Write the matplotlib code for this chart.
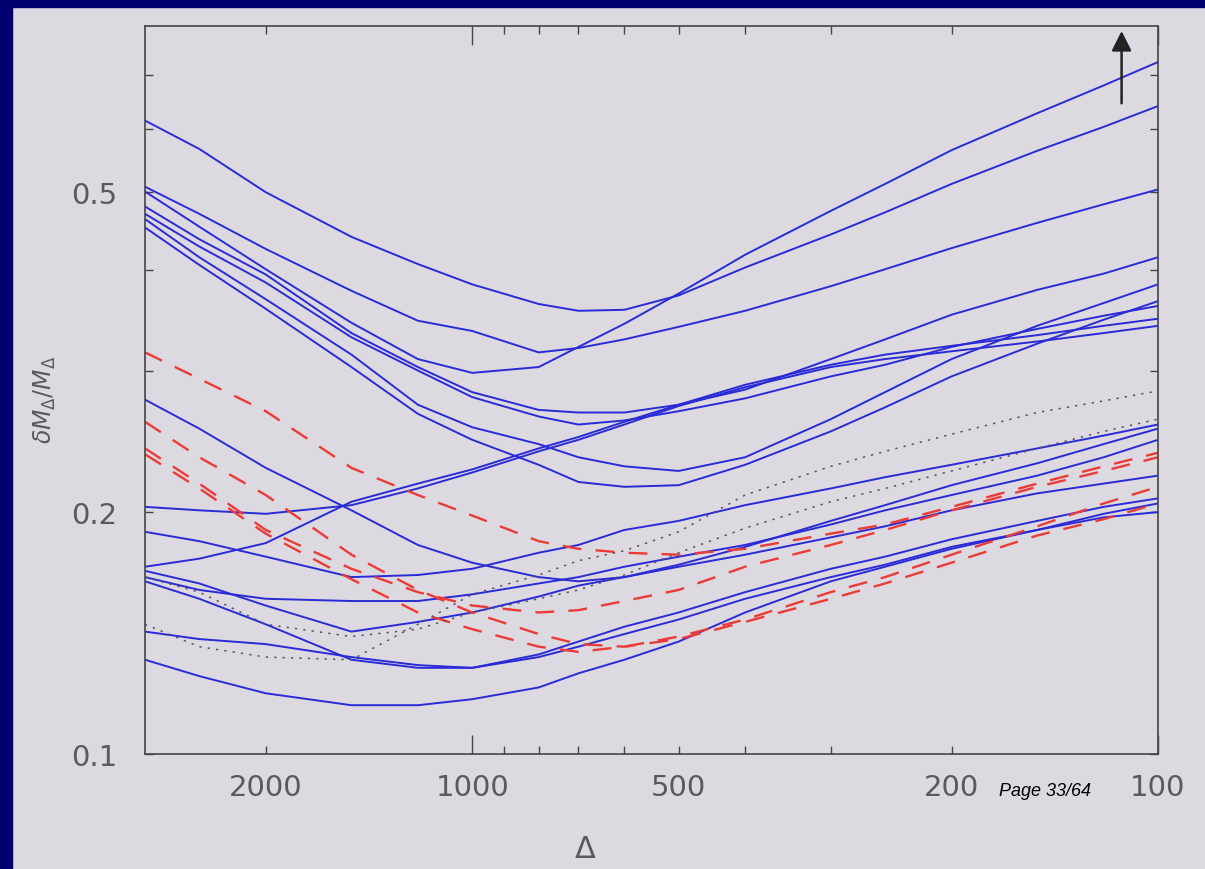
import matplotlib.pyplot as plt
from matplotlib.patches import Rectangle

delta = [3000, 2500, 2000, 1500, 1200, 1000, 800, 700, 600, 500, 400, 300, 250, 200, 150, 120, 100]

# solid blue curves (upper group)
u1 = [.614, .566, .500, .440, .407, .384, .363, .356, .357, .372, .403, .443, .472, .512, .563, .603, .640]
u2 = [.508, .470, .425, .377, .346, .336, .316, .320, .328, .340, .356, .382, .401, .426, .458, .483, .504]
u3 = [.501, .453, .401, .344, .310, .298, .303, .321, .343, .374, .418, .474, .512, .564, .627, .679, .726]
u4 = [.480, .437, .395, .334, .303, .282, .268, .266, .266, .272, .284, .310, .328, .352, .378, .396, .415]
u5 = [.470, .428, .386, .330, .300, .278, .263, .257, .260, .267, .277, .295, .305, .321, .338, .351, .361]
u6 = [.463, .415, .368, .314, .272, .255, .243, .234, .228, .225, .234, .261, .282, .310, .341, .364, .384]
u7 = [.452, .406, .358, .303, .265, .246, .229, .218, .215, .216, .229, .252, .270, .295, .324, .347, .366]
rp1 = [.203, .201, .199, .204, .214, .224, .238, .246, .257, .271, .286, .303, .310, .317, .326, .334, .341]
rp2 = [.171, .175, .183, .206, .217, .226, .240, .248, .259, .272, .288, .305, .314, .322, .332, .341, .348]

# solid blue curves (lower group)
la = [.276, .254, .227, .201, .182, .173, .166, .164, .166, .172, .181, .195, .204, .216, .230, .243, .254]
lb = [.189, .184, .176, .166, .167, .170, .178, .182, .190, .195, .204, .214, .221, .229, .240, .249, .257]
lc = [.166, .160, .156, .155, .155, .158, .163, .166, .171, .176, .182, .193, .201, .210, .222, .234, .246]
ld = [.169, .163, .153, .142, .146, .150, .157, .162, .166, .171, .177, .186, .192, .201, .211, .217, .222]
le = [.164, .156, .145, .131, .128, .128, .133, .138, .144, .150, .159, .170, .176, .185, .195, .203, .208]
lf = [.142, .139, .137, .132, .129, .128, .132, .136, .141, .147, .156, .166, .172, .181, .190, .199, .205]
l1 = [.131, .125, .119, .115, .115, .117, .121, .126, .131, .138, .150, .164, .171, .180, .190, .197, .200]

blue = [u1, u2, u3, u4, u5, u6, u7, rp1, rp2, la, lb, lc, ld, le, lf, l1]

# dashed red curves
r1 = [.316, .293, .267, .227, .210, .198, .184, .180, .178, .177, .180, .188, .193, .203, .217, .228, .237]
r2 = [.259, .234, .210, .177, .160, .150, .141, .137, .136, .139, .146, .156, .163, .173, .187, .196, .205]
r3 = [.240, .217, .190, .170, .159, .153, .150, .151, .155, .160, .171, .182, .190, .201, .215, .225, .234]
r4 = [.236, .214, .188, .165, .150, .143, .136, .134, .136, .140, .147, .159, .166, .177, .192, .205, .215]
red = [r1, r2, r3, r4]

# dotted curves
d1 = [.145, .136, .132, .131, .145, .158, .167, .174, .179, .189, .210, .228, .238, .250, .266, .275, .283]
d2 = [.166, .159, .145, .140, .143, .150, .156, .160, .167, .178, .191, .206, .214, .225, .240, .252, .261]
dots = [d1, d2]

xticks = [2000, 1000, 500, 200, 100]
xminor = [900, 800, 700, 600, 400, 300]
yticks = [0.1, 0.2, 0.5]
yminor = [0.3, 0.4, 0.6, 0.7]

bg = '#ddd9e1'
navy = '#00006e'
txt = '#5a5a5a'

fig = plt.figure(figsize=(12.05, 8.70), dpi=100, facecolor=bg)
# slide frame
fig.patches.append(Rectangle((0, 1 - 8/870), 1, 8/870, transform=fig.transFigure, color=navy, zorder=0))
fig.patches.append(Rectangle((0, 0), 12/1205, 1, transform=fig.transFigure, color=navy, zorder=0))

ax = fig.add_axes([145/1205, 115/870, 1013/1205, 728/870], facecolor=bg)
ax.set_xscale('log')
ax.set_yscale('log')

for y in blue:
    ax.plot(delta, y, color='#2a2ad6', lw=1.4)
for y in red:
    ax.plot(delta, y, color='#ec3b36', lw=1.7, dashes=(8, 6))
for y in dots:
    ax.plot(delta, y, color='#555555', lw=1.1, dashes=(1.5, 4))

ax.annotate('', xy=(113, 0.80), xytext=(113, 0.64),
            arrowprops=dict(arrowstyle='-|>', color='#222222', lw=1.8, mutation_scale=30))

ax.set_xlim(3000, 100)
ax.set_ylim(0.1, 0.805)

ax.set_xticks(xticks)
ax.set_xticklabels([str(t) for t in xticks])
ax.set_xticks(xminor, minor=True)
ax.set_yticks(yticks)
ax.set_yticklabels(['0.1', '0.2', '0.5'])
ax.set_yticks(yminor, minor=True)
ax.yaxis.set_minor_formatter(plt.NullFormatter())
ax.xaxis.set_minor_formatter(plt.NullFormatter())

ax.tick_params(which='both', direction='in', top=True, right=True, color='#444444', width=1.0)
ax.tick_params(which='major', length=6)
ax.tick_params(which='minor', length=6)
ax.tick_params(axis='x', which='major', labelsize=21, labelcolor=txt, pad=14)
ax.tick_params(axis='y', which='major', labelsize=21, labelcolor=txt, pad=20)
# decade ticks are longer
for i in [1, 4]:
    ax.xaxis.get_major_ticks()[i].tick1line.set_markersize(14)
    ax.xaxis.get_major_ticks()[i].tick2line.set_markersize(14)

for s in ax.spines.values():
    s.set_color('#444444')
    s.set_linewidth(1.2)

fig.text(45/1205, 0.54, r'$\delta M_\Delta / M_\Delta$', rotation=90, color=txt,
         fontsize=17, ha='center', va='center')
fig.text(585/1205, 6/870, r'$\Delta$', color=txt, fontsize=22, ha='center', va='bottom')
fig.text(1045/1205, 1 - 792/870, 'Page 33/64', fontsize=13, style='italic',
         family='Liberation Sans', ha='center', va='center', color='black')

plt.savefig('out.png', dpi=100, facecolor=bg)
